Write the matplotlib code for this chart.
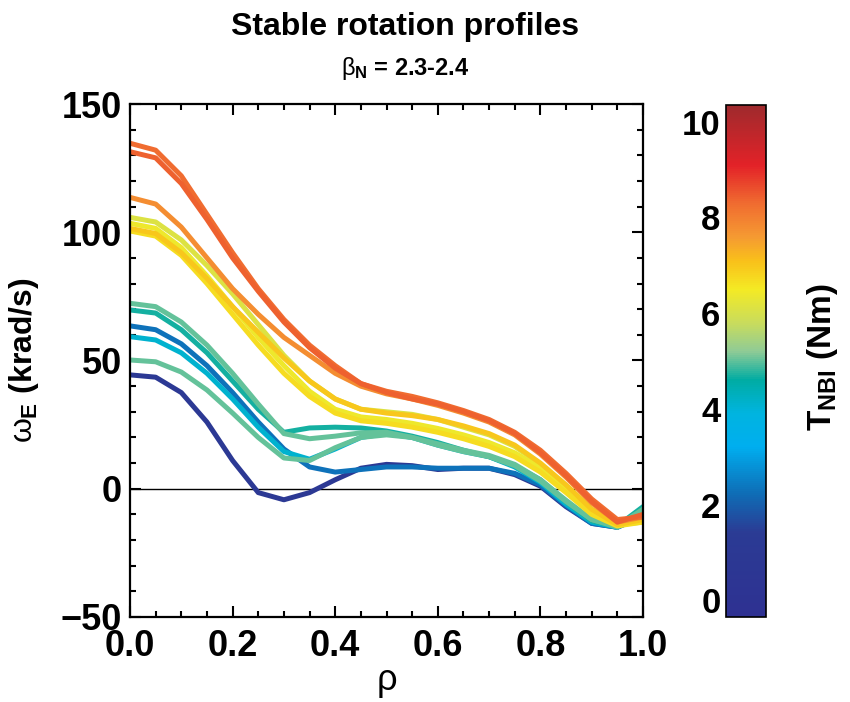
import numpy as np
import matplotlib
matplotlib.use('Agg')
import matplotlib.pyplot as plt
from matplotlib.colors import LinearSegmentedColormap, Normalize
from matplotlib.cm import ScalarMappable
from matplotlib.ticker import MultipleLocator, FormatStrFormatter

plt.rcParams['font.family'] = ['Liberation Sans', 'DejaVu Sans']
plt.rcParams['mathtext.fontset'] = 'custom'
plt.rcParams['mathtext.rm'] = 'Liberation Sans:weight=bold'
plt.rcParams['mathtext.it'] = 'Liberation Sans'
plt.rcParams['mathtext.bf'] = 'Liberation Sans:weight=bold'

# radial grid the profiles were read at
rho = [0.0, 0.05, 0.1, 0.15, 0.2, 0.25, 0.3, 0.35, 0.4, 0.45, 0.5,
       0.55, 0.6, 0.65, 0.7, 0.75, 0.8, 0.85, 0.9, 0.95, 1.0]

# NBI torque of each profile (Nm)
torque = [8.3, 8.4, 7.8, 6.1, 6.4, 7.0, 6.7, 5.0, 4.7, 4.1, 5.0, 2.3, 1.1]

# omega_E profiles (krad/s)
w_red_a = [134.7, 132, 122, 107, 92, 78, 66, 56, 48, 41, 38, 36, 33.5, 30.5, 27, 22, 15, 6, -4, -12, -11]
w_red_b = [131.4, 129, 119, 105, 90, 77, 65, 55, 47, 41, 37.5, 35, 33, 30, 26.5, 21.5, 14, 5, -5, -13, -10]
w_orange = [113.6, 111, 102, 90, 78, 68, 59, 52, 45, 40, 37, 35, 32.5, 29.5, 26, 21, 13.5, 4.5, -5.5, -13, -11]
w_yel_a = [105.8, 104, 97, 87, 76, 64, 52, 42, 35, 31, 30, 29, 27, 24, 21, 16.5, 9.5, 1, -8, -14, -13]
w_yel_b = [103.5, 101.5, 94, 83, 71, 59, 48, 38, 31, 28, 27, 25.5, 23.5, 21, 18, 14, 8, 0, -9, -14, -12.5]
w_yel_c = [101.5, 99.5, 92, 82, 71, 61, 51, 42, 35, 31, 29.5, 28.5, 27, 24.5, 21.5, 17, 10, 1.5, -8, -14, -12]
w_yel_d = [100.5, 98.5, 91, 80, 68, 56, 45, 36, 29.5, 26.5, 25.5, 24, 22, 19.5, 16.5, 12.5, 6.5, -1.5, -10, -14.5, -13]
w_teal_a = [72.3, 71, 65, 56, 45, 33, 21.5, 19.5, 20.5, 21.8, 22, 20, 17, 14.5, 12.5, 9, 3, -5, -12, -14.5, -8]
w_teal_b = [69.7, 68.5, 62, 53, 42, 31, 22, 23.7, 24, 23.7, 22.5, 20.5, 18, 15, 12.5, 9, 3.5, -5, -12.5, -14.5, -7]
w_cyan = [59.3, 58, 53, 45, 35, 24, 14.5, 11.5, 15.5, 20, 21.5, 20, 17, 14.5, 12.5, 8.5, 2.5, -6, -13, -15, -9]
w_green = [50.2, 49.5, 45.5, 38.5, 29.5, 20, 12, 11, 16, 20, 21, 20, 17.5, 15, 13, 9.5, 3.5, -4.5, -12, -15, -10]
w_blue = [63.5, 62, 56.5, 48, 37.5, 26, 15.5, 8.5, 6.5, 7.5, 8.5, 8.5, 8, 8, 8, 6, 1.5, -6.5, -13.5, -15, -11]
w_dblue = [44.4, 43.5, 37.5, 26, 11, -1.5, -4.3, -1.5, 3.5, 8, 9.5, 9, 7.5, 8, 8, 5.5, 1, -7, -13.5, -15, -10.5]

profiles = [w_red_a, w_red_b, w_orange, w_yel_a, w_yel_b, w_yel_c, w_yel_d,
            w_teal_a, w_teal_b, w_cyan, w_green, w_blue, w_dblue]

# colour table approximated from the bar
cb_pos = [-0.35, 1.4, 2.2, 3.2, 3.9, 4.6, 5.2, 5.8, 6.5, 7.1, 7.6, 8.3, 9.1, 10.35]
cb_col = ['#2e3192', '#2b3b94', '#0f6cb5', '#00aeef', '#00b4e0', '#00aca3',
          '#8fcb96', '#c9dc5c', '#f4ea24', '#f9c01a', '#f59a32', '#f06c30',
          '#e32228', '#9f2a2d']
vmin, vmax = -0.35, 10.35
norm = Normalize(vmin, vmax)
cmap = LinearSegmentedColormap.from_list(
    'tnbi', [(norm(p), c) for p, c in zip(cb_pos, cb_col)])

fig = plt.figure(figsize=(8.5, 7.02), dpi=100)
ax = fig.add_axes([130/850, 1-617/702, 513/850, 513/702])

ax.axhline(0, color='black', lw=1.0, zorder=1)
# low torque first so the high-torque profiles end up on top
for i in np.argsort(torque):
    ax.plot(rho, profiles[i], color=cmap(norm(torque[i])), lw=3.6,
            solid_joinstyle='round', zorder=2)

ax.set_xlim(0, 1)
ax.set_ylim(-50, 150)
ax.xaxis.set_major_locator(MultipleLocator(0.2))
ax.xaxis.set_minor_locator(MultipleLocator(0.05))
ax.yaxis.set_major_locator(MultipleLocator(50))
ax.yaxis.set_minor_locator(MultipleLocator(10))
ax.xaxis.set_major_formatter(FormatStrFormatter('%.1f'))
ax.tick_params(which='both', direction='in', top=True, right=True, width=1.5)
ax.tick_params(which='major', length=8, labelsize=26, pad=9)
ax.tick_params(which='minor', length=4)
ax.tick_params(axis='y', which='major', pad=6)
for lab in ax.get_xticklabels() + ax.get_yticklabels():
    lab.set_fontweight('bold')
for s in ax.spines.values():
    s.set_linewidth(1.6)

ax.set_xlabel(r'$\rho$', fontsize=26, labelpad=0)
ax.set_ylabel(r'$\omega_{\mathbf{E}}$ (krad/s)', fontsize=23, fontweight='bold', labelpad=14)

fig.text(405/850, 1-27/702, 'Stable rotation profiles', ha='center', va='center',
         fontsize=23, fontweight='bold')
fig.text(405/850, 1-68/702, r'$\beta_{\mathbf{N}}$ = 2.3-2.4', ha='center', va='center',
         fontsize=17, fontweight='bold')

cax = fig.add_axes([726/850, 1-617/702, 40/850, 512/702])
cb = fig.colorbar(ScalarMappable(norm=norm, cmap=cmap), cax=cax)
cb.set_ticks([0, 2, 4, 6, 8, 10])
cax.yaxis.set_ticks_position('left')
cax.tick_params(length=0, labelsize=25, pad=4)
for lab in cax.get_yticklabels():
    lab.set_fontweight('bold')
cb.outline.set_linewidth(1.2)
fig.text(823/850, 1-357/702, r'T$_{\mathbf{NBI}}$ (Nm)', rotation=90, ha='center', va='center',
         fontsize=24, fontweight='bold')

fig.savefig('out.png', dpi=100)
